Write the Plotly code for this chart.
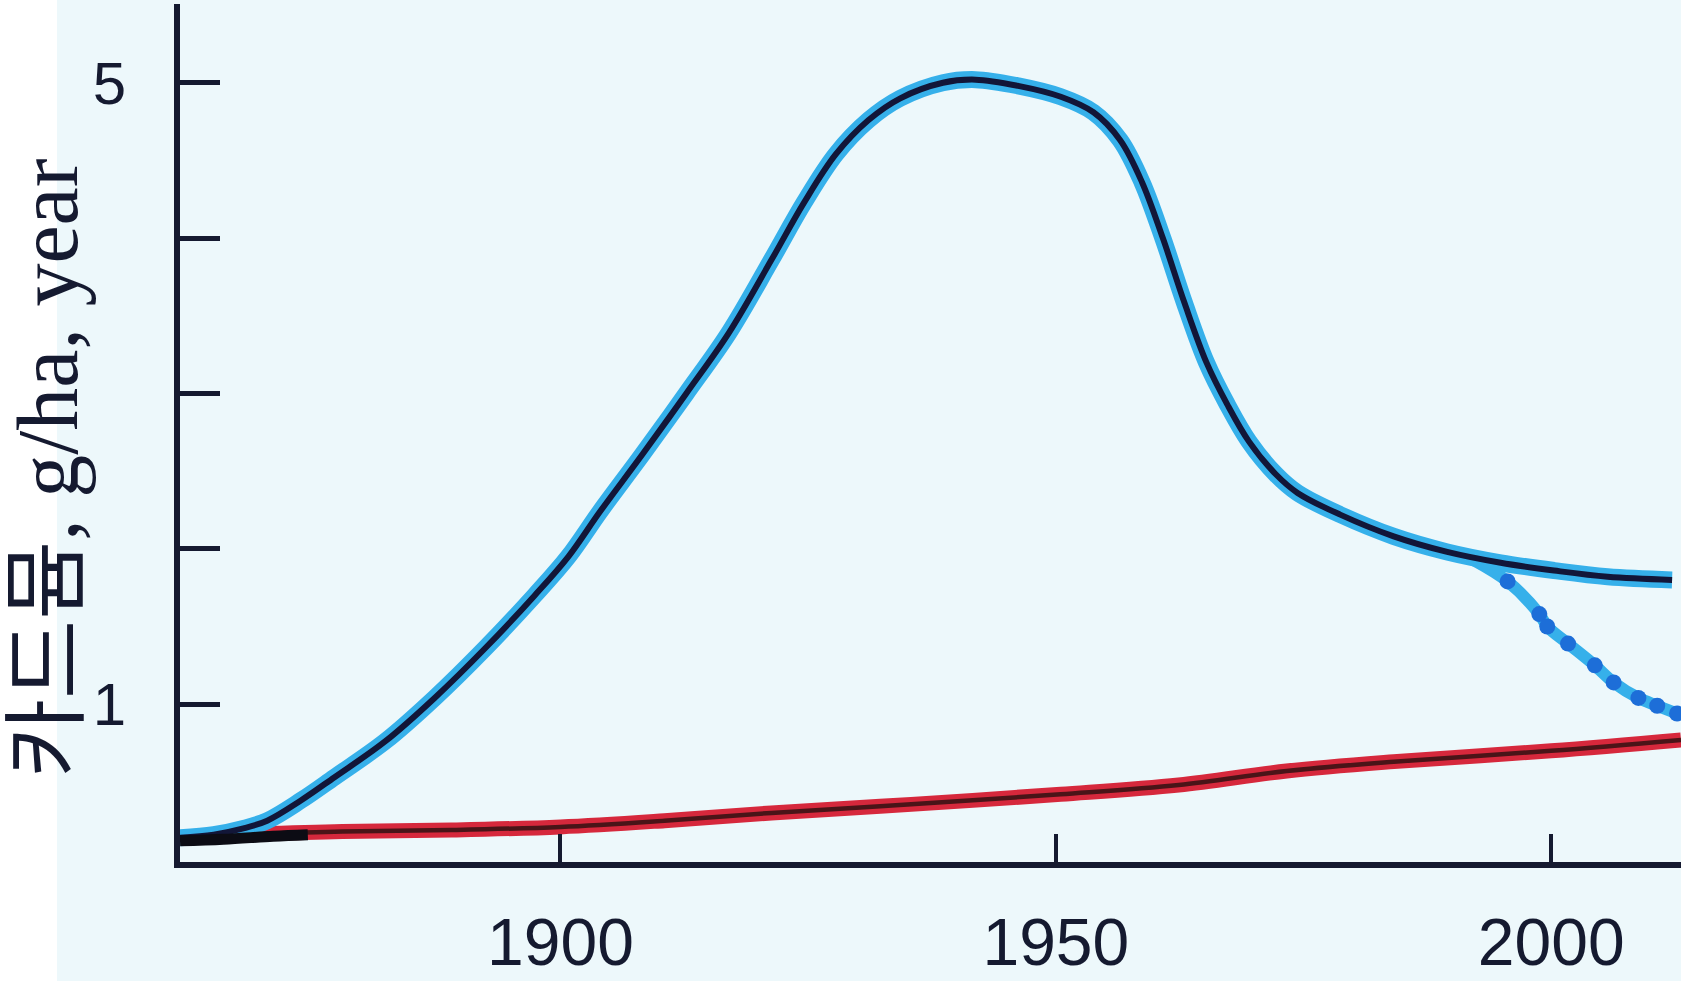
import plotly.graph_objects as go

# ---- data ----
years_main = [1861.6, 1865.0, 1868.0, 1870.4, 1873.8, 1877.2, 1882.3, 1887.3, 1892.4, 1897.4,
              1900.8, 1904.0, 1908.3, 1912.7, 1917.0, 1921.3, 1924.6, 1927.8, 1931.1, 1934.3,
              1938.6, 1941.9, 1946.2, 1950.5, 1953.8, 1956.5, 1958.7, 1960.8, 1963.0, 1965.2,
              1967.3, 1969.5, 1972.2, 1974.4, 1978.7, 1984.1, 1989.5, 1994.9, 2000.3, 2005.7, 2012.2]
cd_main = [0.14, 0.16, 0.20, 0.25, 0.38, 0.53, 0.76, 1.04, 1.36, 1.70,
           1.95, 2.24, 2.61, 3.00, 3.39, 3.86, 4.23, 4.54, 4.76, 4.90,
           5.00, 5.02, 4.98, 4.91, 4.81, 4.63, 4.36, 4.00, 3.58, 3.20,
           2.93, 2.69, 2.48, 2.36, 2.22, 2.08, 1.98, 1.91, 1.86, 1.82, 1.80]

years_branch = [1992.1, 1995.6, 1998.8, 1999.6, 2001.7, 2004.4, 2006.3, 2008.8, 2010.7, 2012.7]
cd_branch = [1.93, 1.79, 1.58, 1.50, 1.39, 1.25, 1.14, 1.04, 0.99, 0.94]

years_red = [1867.0, 1878.0, 1889.0, 1900.0, 1910.5, 1921.3, 1935.4, 1950.5, 1962.4, 1973.3, 1984.1, 2000.0, 2013.1]
cd_red = [0.16, 0.18, 0.19, 0.21, 0.25, 0.30, 0.355, 0.42, 0.48, 0.57, 0.63, 0.70, 0.77]

years_start = [1861.6, 1866.0, 1871.0, 1874.5]
cd_start = [0.12, 0.13, 0.15, 0.16]

x_tickvals = [1900, 1950, 2000]
x_ticktext = ["1900", "1950", "2000"]
y_tickvals = [1, 2, 3, 4, 5]
y_ticktext = ["1", "", "", "", "5"]

y_title = "카드뮴, g/ha, year"

# ---- styling ----
BG = "#edf8fb"
INK = "#151a30"
LIGHT_BLUE = "#36b0ea"
NAVY = "#121638"
RED = "#d6283c"
RED_CORE = "#4a1418"
DOT = "#1d6ed8"

L_MARGIN = 180
PLOT_W = 1681 - L_MARGIN

fig = go.Figure()

# red band with dark core
fig.add_trace(go.Scatter(x=years_red, y=cd_red, mode="lines",
                         line=dict(color=RED, width=15, shape="spline"), hoverinfo="skip"))
fig.add_trace(go.Scatter(x=years_red, y=cd_red, mode="lines",
                         line=dict(color=RED_CORE, width=4.5, shape="spline"), hoverinfo="skip"))

# dotted branch
fig.add_trace(go.Scatter(x=years_branch, y=cd_branch, mode="lines",
                         line=dict(color=LIGHT_BLUE, width=12, shape="spline"), hoverinfo="skip"))
fig.add_trace(go.Scatter(x=years_branch[1:], y=cd_branch[1:], mode="markers",
                         marker=dict(color=DOT, size=16), hoverinfo="skip"))

# main bell curve: light blue band + navy line
fig.add_trace(go.Scatter(x=years_main, y=cd_main, mode="lines",
                         line=dict(color=LIGHT_BLUE, width=17, shape="spline"), hoverinfo="skip"))
fig.add_trace(go.Scatter(x=years_main, y=cd_main, mode="lines",
                         line=dict(color=NAVY, width=6, shape="spline"), hoverinfo="skip"))

# black start segment
fig.add_trace(go.Scatter(x=years_start, y=cd_start, mode="lines",
                         line=dict(color="#0c0c14", width=11, shape="spline"), hoverinfo="skip"))

fig.update_layout(
    width=1681, height=981,
    margin=dict(l=L_MARGIN, r=0, t=4, b=119, autoexpand=False),
    paper_bgcolor=BG, plot_bgcolor=BG,
    showlegend=False,
    hovermode=False,
    font=dict(family="Liberation Sans, Arial, sans-serif", color=INK),
    xaxis=dict(range=[1861.6, 2013.1], showgrid=False, zeroline=False, automargin=False,
               showline=True, linecolor=INK, linewidth=6,
               ticks="inside", ticklen=28, tickwidth=4, tickcolor=INK,
               tickvals=x_tickvals, ticktext=x_ticktext,
               tickfont=dict(size=66, color=INK), ticklabelstandoff=18),
    yaxis=dict(range=[-0.016, 5.507], showgrid=False, zeroline=False, automargin=False,
               showline=True, linecolor=INK, linewidth=6,
               ticks="inside", ticklen=40, tickwidth=5, tickcolor=INK,
               tickvals=y_tickvals, ticktext=y_ticktext,
               tickfont=dict(size=60, color=INK), ticklabelstandoff=36),
    shapes=[dict(type="rect", xref="paper", yref="paper",
                 x0=-L_MARGIN / PLOT_W, x1=(57 - L_MARGIN) / PLOT_W, y0=-0.2, y1=1.05,
                 fillcolor="white", line=dict(width=0), layer="below")],
    annotations=[dict(text=y_title, xref="paper", yref="paper", x=0, y=0.458,
                      xanchor="center", yanchor="middle", xshift=48 - L_MARGIN, textangle=-90,
                      showarrow=False,
                      font=dict(family="Liberation Serif, 'Noto Sans CJK KR', serif",
                                size=86, color=INK))],
)

fig.write_html("out.html", config={"displayModeBar": False},
               post_script="document.body.style.margin='0';document.body.style.overflow='hidden';")
